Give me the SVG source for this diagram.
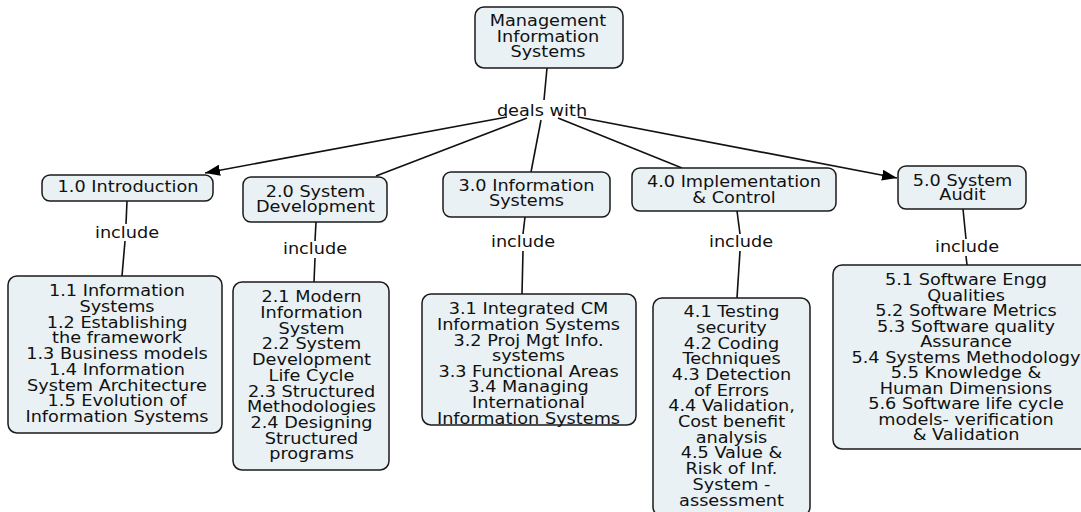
<svg xmlns="http://www.w3.org/2000/svg" width="1081" height="512" viewBox="0 0 1081 512">
<style>
.box{fill:#e9f1f4;stroke:#1a1a1a;stroke-width:1.5}
.t{font-family:"DejaVu Sans","Liberation Sans",sans-serif;font-size:15px;fill:#111;text-anchor:middle}
.ln{stroke:#111;stroke-width:1.6;fill:none}
</style>
<defs>
<marker id="arr" markerUnits="userSpaceOnUse" markerWidth="16" markerHeight="12" refX="15" refY="5.5" orient="auto">
<path d="M0,0 L15,5.5 L0,11 z" fill="#000"/>
</marker>
</defs>
<rect width="1081" height="512" fill="#fff"/>
<g id="connectors">
<line class="ln" x1="547" y1="68" x2="544" y2="100"/>
<line class="ln" x1="541" y1="120" x2="531" y2="172"/>
<line class="ln" x1="507" y1="117" x2="205" y2="173" marker-end="url(#arr)"/>
<line class="ln" x1="527" y1="118" x2="376" y2="176"/>
<line class="ln" x1="558" y1="118" x2="682" y2="168"/>
<line class="ln" x1="578" y1="117" x2="897" y2="178" marker-end="url(#arr)"/>
<line class="ln" x1="127" y1="201" x2="126" y2="224"/>
<line class="ln" x1="125" y1="241" x2="122" y2="276"/>
<line class="ln" x1="316" y1="222" x2="315" y2="241"/>
<line class="ln" x1="315" y1="258" x2="314" y2="282"/>
<line class="ln" x1="525" y1="217" x2="523" y2="234"/>
<line class="ln" x1="523" y1="251" x2="522" y2="294"/>
<line class="ln" x1="737" y1="211" x2="740" y2="234"/>
<line class="ln" x1="740" y1="251" x2="737" y2="298"/>
<line class="ln" x1="963" y1="209" x2="966" y2="239"/>
<line class="ln" x1="966" y1="256" x2="967" y2="265"/>
<text class="t" transform="matrix(1.18 0 0 1 542 0)"><tspan x="0" y="116">deals with</tspan></text>
<text class="t" transform="matrix(1.18 0 0 1 127 0)"><tspan x="0" y="238">include</tspan></text>
<text class="t" transform="matrix(1.18 0 0 1 315 0)"><tspan x="0" y="254.5">include</tspan></text>
<text class="t" transform="matrix(1.18 0 0 1 523 0)"><tspan x="0" y="247.5">include</tspan></text>
<text class="t" transform="matrix(1.18 0 0 1 741 0)"><tspan x="0" y="247.5">include</tspan></text>
<text class="t" transform="matrix(1.18 0 0 1 967 0)"><tspan x="0" y="252.5">include</tspan></text>
</g>
<g id="root">
<rect class="box" x="475" y="7" width="148" height="61" rx="9"/>
<text class="t" transform="matrix(1.18 0 0 1 548 0)"><tspan x="0" y="26.5">Management</tspan><tspan x="0" y="42">Information</tspan><tspan x="0" y="57.5">Systems</tspan></text>
</g>
<g id="n1">
<rect class="box" x="42" y="175" width="171" height="26" rx="8"/>
<text class="t" transform="matrix(1.18 0 0 1 128 0)"><tspan x="0" y="192.2">1.0 Introduction</tspan></text>
</g>
<g id="n2">
<rect class="box" x="243" y="177" width="144" height="45" rx="8"/>
<text class="t" transform="matrix(1.18 0 0 1 315.5 0)"><tspan x="0" y="197.2">2.0 System</tspan><tspan x="0" y="212">Development</tspan></text>
</g>
<g id="n3">
<rect class="box" x="443" y="172" width="167" height="45" rx="8"/>
<text class="t" transform="matrix(1.18 0 0 1 526.5 0)"><tspan x="0" y="191.5">3.0 Information</tspan><tspan x="0" y="206.5">Systems</tspan></text>
</g>
<g id="n4">
<rect class="box" x="632" y="168" width="204" height="43" rx="8"/>
<text class="t" transform="matrix(1.18 0 0 1 734 0)"><tspan x="0" y="187.2">4.0 Implementation</tspan><tspan x="0" y="202.8">&amp; Control</tspan></text>
</g>
<g id="n5">
<rect class="box" x="898" y="166" width="128" height="43" rx="8"/>
<text class="t" transform="matrix(1.18 0 0 1 962.5 0)"><tspan x="0" y="186.2">5.0 System</tspan><tspan x="0" y="200.5">Audit</tspan></text>
</g>
<g id="l1">
<rect class="box" x="8" y="276" width="214" height="157" rx="9"/>
<text class="t" transform="matrix(1.18 0 0 1 117 0)"><tspan x="0" y="296.2">1.1 Information</tspan><tspan x="0" y="312">Systems</tspan><tspan x="0" y="327.7">1.2 Establishing</tspan><tspan x="0" y="343.5">the framework</tspan><tspan x="0" y="359.2">1.3 Business models</tspan><tspan x="0" y="375">1.4 Information</tspan><tspan x="0" y="390.7">System Architecture</tspan><tspan x="0" y="406.5">1.5 Evolution of</tspan><tspan x="0" y="422.2">Information Systems</tspan></text>
</g>
<g id="l2">
<rect class="box" x="233" y="282" width="156" height="188" rx="9"/>
<text class="t" transform="matrix(1.18 0 0 1 311.5 0)"><tspan x="0" y="302.2">2.1 Modern</tspan><tspan x="0" y="317.9">Information</tspan><tspan x="0" y="333.6">System</tspan><tspan x="0" y="349.4">2.2 System</tspan><tspan x="0" y="365.1">Development</tspan><tspan x="0" y="380.8">Life Cycle</tspan><tspan x="0" y="396.6">2.3 Structured</tspan><tspan x="0" y="412.3">Methodologies</tspan><tspan x="0" y="428">2.4 Designing</tspan><tspan x="0" y="443.8">Structured</tspan><tspan x="0" y="459.5">programs</tspan></text>
</g>
<g id="l3">
<rect class="box" x="422" y="294" width="214" height="131" rx="9"/>
<text class="t" transform="matrix(1.18 0 0 1 528.5 0)"><tspan x="0" y="314.5">3.1 Integrated CM</tspan><tspan x="0" y="330.1">Information Systems</tspan><tspan x="0" y="345.7">3.2 Proj Mgt Info.</tspan><tspan x="0" y="361.3">systems</tspan><tspan x="0" y="376.9">3.3 Functional Areas</tspan><tspan x="0" y="392.5">3.4 Managing</tspan><tspan x="0" y="408.1">International</tspan><tspan x="0" y="423.7">Information Systems</tspan></text>
</g>
<g id="l4">
<rect class="box" x="653" y="298" width="157" height="218" rx="9"/>
<text class="t" transform="matrix(1.18 0 0 1 731.5 0)"><tspan x="0" y="317.2">4.1 Testing</tspan><tspan x="0" y="332.9">security</tspan><tspan x="0" y="348.6">4.2 Coding</tspan><tspan x="0" y="364.3">Techniques</tspan><tspan x="0" y="380">4.3 Detection</tspan><tspan x="0" y="395.7">of Errors</tspan><tspan x="0" y="411.4">4.4 Validation,</tspan><tspan x="0" y="427.1">Cost benefit</tspan><tspan x="0" y="442.8">analysis</tspan><tspan x="0" y="458.5">4.5 Value &amp;</tspan><tspan x="0" y="474.2">Risk of Inf.</tspan><tspan x="0" y="489.9">System -</tspan><tspan x="0" y="505.6">assessment</tspan></text>
</g>
<g id="l5">
<rect class="box" x="833" y="265" width="266" height="184" rx="9"/>
<text class="t" transform="matrix(1.18 0 0 1 966 0)"><tspan x="0" y="285.5">5.1 Software Engg</tspan><tspan x="0" y="301">Qualities</tspan><tspan x="0" y="316.5">5.2 Software Metrics</tspan><tspan x="0" y="332">5.3 Software quality</tspan><tspan x="0" y="347.5">Assurance</tspan><tspan x="0" y="363">5.4 Systems Methodology</tspan><tspan x="0" y="378.5">5.5 Knowledge &amp;</tspan><tspan x="0" y="394">Human Dimensions</tspan><tspan x="0" y="409.5">5.6 Software life cycle</tspan><tspan x="0" y="425">models- verification</tspan><tspan x="0" y="440.5">&amp; Validation</tspan></text>
</g>
</svg>
